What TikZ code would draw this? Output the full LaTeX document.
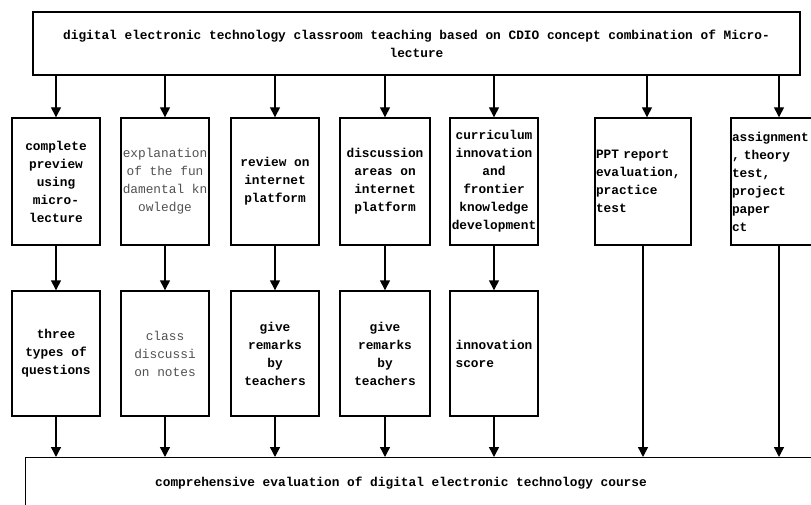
\documentclass[tikz,border=0pt]{standalone}
\usepackage{fontspec}
\newfontfamily\lmono{Liberation Mono}
\usetikzlibrary{arrows.meta}
\definecolor{greytxt}{RGB}{80,80,80}
\begin{document}
\begin{tikzpicture}[x=1pt,y=-1pt,
  txt/.style={font=\lmono\bfseries\fontsize{12.8}{18}\selectfont},
  gtxt/.style={font=\lmono\fontsize{12.8}{18}\selectfont,text=greytxt},
  frame/.style={draw,line width=1.4pt,inner sep=0pt},
  boxa/.style={frame,txt,align=center,minimum width=88pt,minimum height=127pt},
  boxb/.style={frame,txt,align=center,minimum width=88pt,minimum height=125pt},
  boxl/.style={frame,txt,align=left,text width=94pt,inner xsep=1pt,minimum height=127pt},
  arr/.style={line width=1.4pt,-{Triangle[width=10pt,length=10pt]}}
]
\useasboundingbox (0,0) rectangle (811,505);
\clip (0,0) rectangle (811,505);

% top box
\node[frame,txt,align=center,minimum width=767pt,minimum height=63pt] (top) at (416.5,43.5)
  {digital electronic technology classroom teaching based on CDIO concept combination of Micro-\\lecture};

% first row
\node[boxa] (b1) at (56,181.5) {complete\\preview\\using\\micro-\\lecture};
\node[boxa,gtxt] (b2) at (165,181.5) {explanation\\of the fun\\damental kn\\owledge};
\node[boxa] (b3) at (275,181.5) {review on\\internet\\platform};
\node[boxa,minimum width=90pt] (b4) at (385,181.5) {discussion\\areas on\\internet\\platform};
\node[boxa] (b5) at (494,181.5) {curriculum\\innovation\\and\\frontier\\knowledge\\development};
\node[boxl] (b6) at (643,181.5) {PPT report\\evaluation,\\practice\\test};
\node[boxl] (b7) at (779,181.5) {assignment\\, theory\\test,\\project\\paper\\ct};

% second row
\node[boxb] (c1) at (56,353.5) {three\\types of\\questions};
\node[boxb,gtxt] (c2) at (165,353.5) {class\\discussi\\on notes};
\node[boxb] (c3) at (275,353.5) {give\\remarks\\by\\teachers};
\node[boxb,minimum width=90pt] (c4) at (385,353.5) {give\\remarks\\by\\teachers};
\node[frame,txt,align=left,minimum width=88pt,minimum height=125pt] (c5) at (494,353.5) {innovation\\score};

% bottom box
\node[frame,minimum width=805pt,minimum height=70pt,anchor=north west] (bot) at (25,457) {};
\node[txt] (bottxt) at (401,483) {comprehensive evaluation of digital electronic technology course};

% arrows top -> first row
\foreach \n in {b1,b2,b3,b4,b5,b7}
  \draw[arr] (\n.north |- top.south) -- (\n.north);
\draw[arr] ([xshift=4pt]b6.north |- top.south) -- ([xshift=4pt]b6.north);

% first row -> second row
\draw[arr] (b1.south) -- (c1.north);
\draw[arr] (b2.south) -- (c2.north);
\draw[arr] (b3.south) -- (c3.north);
\draw[arr] (b4.south) -- (c4.north);
\draw[arr] (b5.south) -- (c5.north);

% to bottom box
\foreach \n in {c1,c2,c3,c4,c5,b6,b7}
  \draw[arr] (\n.south) -- (\n.south |- bot.north);
\end{tikzpicture}
\end{document}
